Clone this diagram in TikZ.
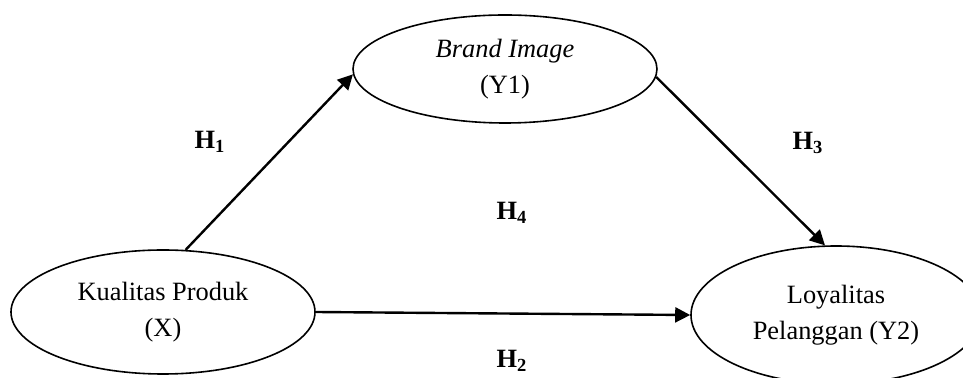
\documentclass[tikz,border=0pt]{standalone}
\usepackage{fontspec}
\setmainfont{Liberation Serif}
\usetikzlibrary{arrows.meta,shapes.geometric}

\begin{document}
\begin{tikzpicture}[
		x=0.5pt, y=-0.5pt,
		font=\fontsize{13.2}{18}\selectfont,
		arrow/.style={-{Triangle[length=7.5pt, width=7.5pt]}, line width=1.2pt},
		construct/.style={draw, ellipse, line width=0.8pt, align=center, inner sep=0pt},
		hypothesis/.style={font=\fontsize{13.2}{18}\selectfont\bfseries},
	]
		\useasboundingbox (0,0) rectangle (963,378);
		\node [construct, minimum width=152pt, minimum height=62pt] (produk) at (163,312) {Kualitas Produk\\(X)};
		\node [construct, minimum width=152pt, minimum height=54pt] (brand) at (505,69) {\textit{Brand Image}\\(Y1)};
		\node [construct, minimum width=145pt, minimum height=69pt] (loyal) at (836,315) {Loyalitas\\Pelanggan (Y2)};
		
		\node [hypothesis] (h1) at (210,142) {H\textsubscript{1}};
		\node [hypothesis] (h3) at (808,143) {H\textsubscript{3}};
		\node [hypothesis] (h4) at (512,213) {H\textsubscript{4}};
		\node [hypothesis] (h2) at (512,361) {H\textsubscript{2}};
		
		\draw[arrow] (produk.70.7) -- (brand.182.2);
		\draw[arrow] (brand.357.7) -- (loyal.99.9);
		\draw[arrow] (produk.east) -- (loyal.west);
	\end{tikzpicture}
\end{document}
